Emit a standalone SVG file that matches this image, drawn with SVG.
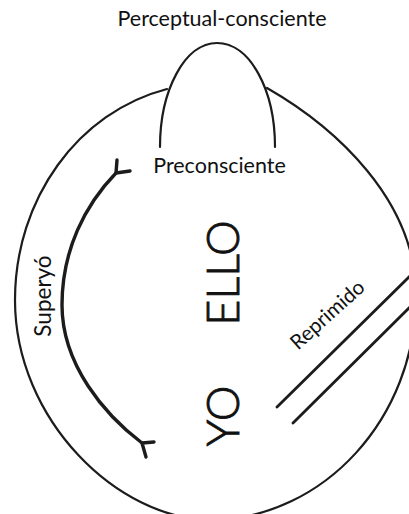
<svg xmlns="http://www.w3.org/2000/svg" width="409" height="514" viewBox="0 0 409 514">
<style>
.ln{fill:none;stroke:#1c1c1c;stroke-linecap:round;stroke-linejoin:round}
.outer{stroke-width:2.2}
.inner{stroke-width:3.4}
.bar{stroke-width:2.8}
.t{font-family:Lato,"Noto Sans","Liberation Sans",sans-serif;fill:#111}
.big{font-weight:300;stroke:#111;stroke-width:0.9}
</style>
<rect width="409" height="514" fill="#fff"/>
<g id="psyche">
<g id="outer-boundary">
<path class="ln outer" d="M167,89 C78,112 15,199 15,300 C15,420 118,520 212,520"/>
<path class="ln outer" d="M267,88 C335,127 416,200 416,295 C416,418 324,518 212,520"/>
</g>
<g id="perceptual-consciente">
<path class="ln outer" d="M160,147 C160,90 185,43 217,43 C250,43 275,90 275,147"/>
<text class="t" x="222" y="26" font-size="21.5" text-anchor="middle">Perceptual-consciente</text>
</g>
<g id="preconsciente">
<text class="t" x="219.5" y="173" font-size="21.5" text-anchor="middle">Preconsciente</text>
</g>
<g id="superyo">
<path class="ln inner" d="M116,173 C85,205 62,250 62,305 C62,365 105,415 142,443"/>
<path class="ln inner" d="M117,160 L116,173 L130,171"/>
<path class="ln inner" d="M154,442 L142,443 L146,457"/>
<text class="t" transform="translate(51,296) rotate(-90)" font-size="22.5" text-anchor="middle">Superyó</text>
</g>
<g id="ello">
<text class="t big" transform="translate(239,273) rotate(-90)" font-size="45" text-anchor="middle">ELLO</text>
</g>
<g id="yo">
<text class="t big" transform="translate(239,416) rotate(-90)" font-size="45" text-anchor="middle">YO</text>
</g>
<g id="reprimido">
<path class="ln bar" d="M277,407 L412,274"/>
<path class="ln bar" d="M293,423 L412,305"/>
<text class="t" transform="translate(332,320) rotate(-42)" font-size="20.5" text-anchor="middle">Reprimido</text>
</g>
</g>
</svg>
